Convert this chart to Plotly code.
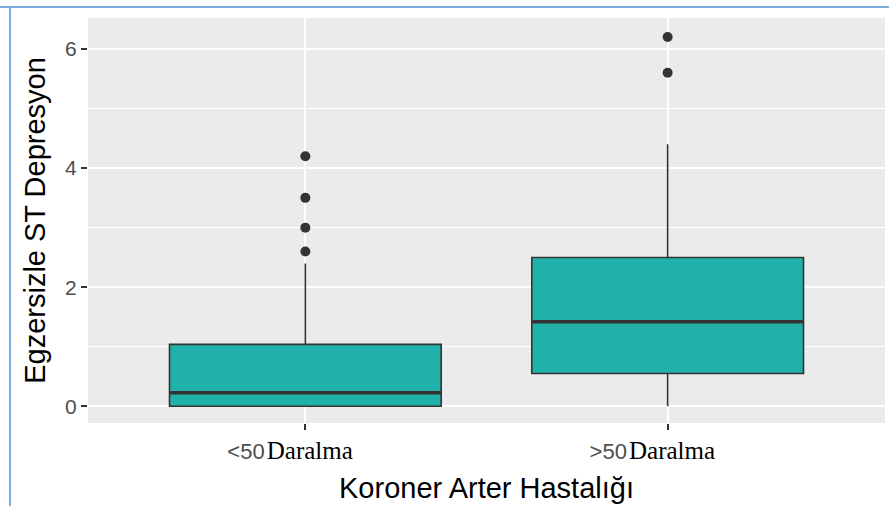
import plotly.graph_objects as go

categories = ["<50", ">50"]
cat_suffix = ["Daralma", "Daralma"]
positions = [0, 1]
q1 = [0.0, 0.55]
median = [0.23, 1.42]
q3 = [1.04, 2.5]
lower_fence = [0.0, 0.0]
upper_fence = [2.4, 4.4]
outliers = [[4.2, 3.5, 3.0, 2.6], [6.2, 5.6]]
y_ticks = [0, 2, 4, 6]

FILL = "#20B2AA"
EDGE = "#333333"
BOXW = 0.75

fig = go.Figure()
fig.add_trace(go.Box(
    x=positions, q1=q1, median=median, q3=q3,
    lowerfence=lower_fence, upperfence=upper_fence,
    width=BOXW, whiskerwidth=0, boxpoints=False,
    fillcolor=FILL, line=dict(color=EDGE, width=1.6),
    hoverinfo="skip", showlegend=False,
))
# thicker median line (ggplot fatten)
for p, m in zip(positions, median):
    fig.add_trace(go.Scatter(
        x=[p - BOXW / 2, p + BOXW / 2], y=[m, m], mode="lines",
        line=dict(color=EDGE, width=3.5), hoverinfo="skip", showlegend=False,
    ))
ox, oy = [], []
for p, outs in zip(positions, outliers):
    for v in outs:
        ox.append(p)
        oy.append(v)
fig.add_trace(go.Scatter(
    x=ox, y=oy, mode="markers",
    marker=dict(color=EDGE, size=10), hoverinfo="skip", showlegend=False,
))

ticktext = [
    c.replace('<', '&lt;').replace('>', '&gt;')
    + "<span style='font-family:\"Liberation Serif\";color:#000000;font-size:25px'>&#8202;" + s + "</span>"
    + "&#160;" * 5
    for c, s in zip(categories, cat_suffix)
]

fig.update_layout(
    width=889, height=506,
    margin=dict(l=88, r=4, t=18, b=83),
    paper_bgcolor="white", plot_bgcolor="#EBEBEB",
    font=dict(family="Liberation Sans, Arial, sans-serif", color="#000000"),
    xaxis=dict(
        range=[-0.6, 1.6], tickvals=positions, ticktext=ticktext,
        showgrid=True, gridcolor="white", gridwidth=2,
        zeroline=False, ticks="outside", ticklen=6, tickcolor=EDGE, tickwidth=1.5,
        tickfont=dict(size=22, color="#4D4D4D"), ticklabelstandoff=3,
        title=dict(text="Koroner Arter Hastalığı", font=dict(size=29, color="#000000"), standoff=14),
    ),
    yaxis=dict(
        range=[-0.28, 6.52], tickvals=y_ticks,
        showgrid=True, gridcolor="white", gridwidth=2,
        minor=dict(dtick=1, showgrid=True, gridcolor="white", gridwidth=1.2, tick0=0),
        zeroline=False, ticks="outside", ticklen=6, tickcolor=EDGE, tickwidth=1.5,
        tickfont=dict(size=21, color="#4D4D4D"),
        title=dict(text="Egzersizle ST Depresyon", font=dict(size=29, color="#000000"), standoff=10),
    ),
    shapes=[
        dict(type="line", xref="paper", yref="paper", x0=-88/797, x1=1.01, y0=1 + 11/405, y1=1 + 11/405,
             line=dict(color="#7AAEE0", width=2)),
        dict(type="line", xref="paper", yref="paper", x0=-78/797, x1=-78/797, y0=-0.3, y1=1 + 11/405,
             line=dict(color="#7AAEE0", width=2)),
    ],
)

fig.write_html("out.html", config={"displayModeBar": False},
               post_script="document.body.style.margin='0';")
